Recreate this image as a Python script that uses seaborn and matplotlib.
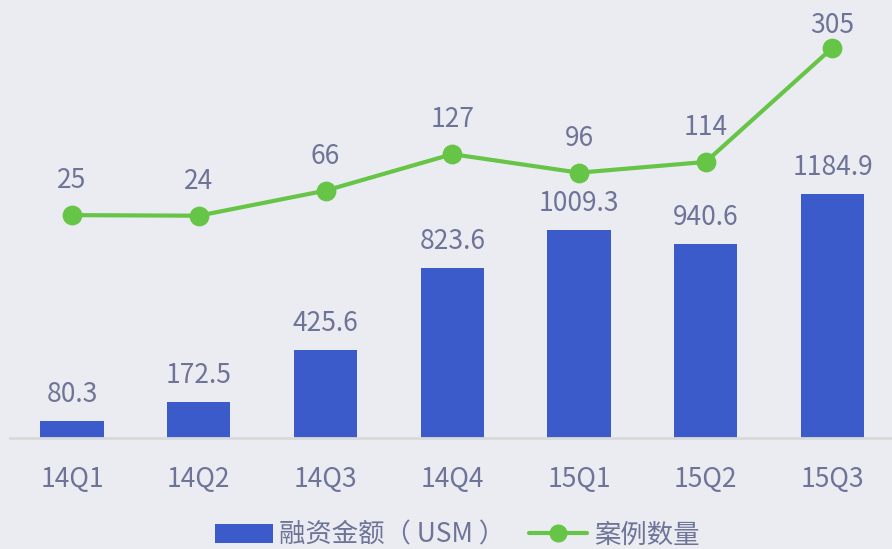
import matplotlib
matplotlib.use("Agg")
import matplotlib.pyplot as plt
import seaborn as sns
import pandas as pd
from matplotlib.patches import Patch
from matplotlib.lines import Line2D

# chart data
quarters = ['14Q1', '14Q2', '14Q3', '14Q4', '15Q1', '15Q2', '15Q3']
funding = [80.3, 172.5, 425.6, 823.6, 1009.3, 940.6, 1184.9]
cases = [25, 24, 66, 127, 96, 114, 305]
bar_name = '融资金额（ USM ）'
line_name = '案例数量'

bg = '#EBECF2'
blue = '#3C5BCB'
green = '#66C546'
txt = '#6E7497'

sns.set_theme(style='white')
plt.rcParams['font.family'] = ['Noto Sans CJK SC', 'DejaVu Sans']

df = pd.DataFrame({'quarter': quarters, 'funding': funding, 'cases': cases})

fig = plt.figure(figsize=(8.92, 5.49), dpi=100, facecolor=bg)
ax = fig.add_axes([10 / 892, 111 / 549, 882 / 892, 438 / 549])
ax.set_facecolor(bg)

sns.barplot(data=df, x='quarter', y='funding', color=blue, width=0.5,
            saturation=1, linewidth=0, ax=ax)

ax2 = ax.twinx()
sns.pointplot(data=df, x='quarter', y='cases', color=green, markers='o',
              linewidth=3, markersize=12, ax=ax2)

ax.set_xlim(-0.49, 6.47)
ax.set_ylim(0, 2127)
ax2.set_ylim(-348, 385)

for a in (ax, ax2):
    for s in ['top', 'left', 'right']:
        a.spines[s].set_visible(False)
    a.set_yticks([])
    a.set_ylabel('')
    a.set_xlabel('')
ax2.spines['bottom'].set_visible(False)
ax.spines['bottom'].set_color('#D9D9D9')
ax.spines['bottom'].set_linewidth(2)
ax.tick_params(axis='x', length=0, pad=20, labelsize=19, labelcolor=txt)

for i, v in enumerate(funding):
    ax.annotate(f'{v:g}', (i, v), xytext=(0, 9.5), textcoords='offset points',
                ha='center', va='bottom', fontsize=19, color=txt)

for i, v in enumerate(cases):
    off = 15 if i < len(cases) - 1 else 6
    ax2.annotate(f'{v}', (i, v), xytext=(0, off), textcoords='offset points',
                 ha='center', va='bottom', fontsize=19, color=txt)

handles = [Patch(facecolor=blue, edgecolor='none'),
           Line2D([], [], color=green, linewidth=3, marker='o', markersize=12)]
fig.legend(handles, [bar_name, line_name], loc='center',
           bbox_to_anchor=(457 / 892, 1 - 535 / 549), ncol=2, frameon=False,
           fontsize=19, labelcolor=txt, handlelength=2.2, handletextpad=0.25,
           columnspacing=0.9)

fig.savefig('out.png', dpi=100, facecolor=bg)
